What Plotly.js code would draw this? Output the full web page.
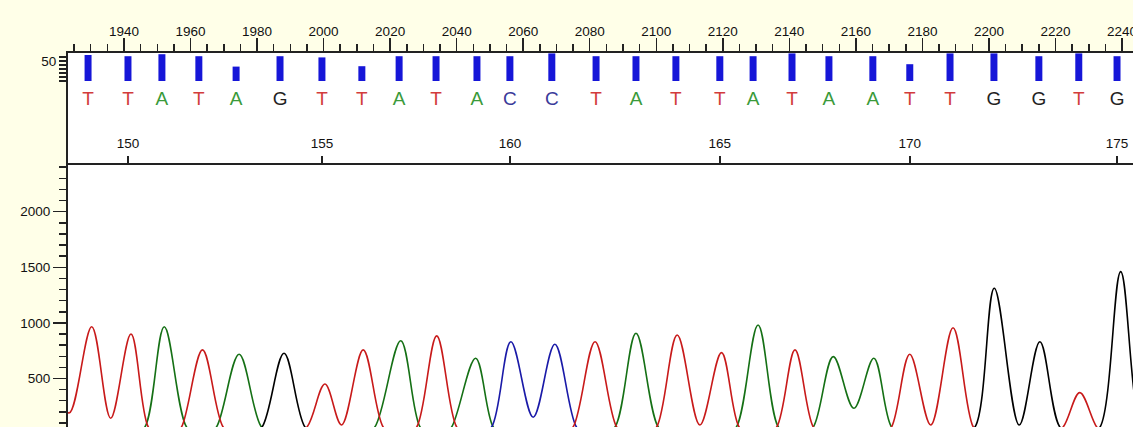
<!DOCTYPE html>
<html><head><meta charset="utf-8">
<script src="https://cdn.plot.ly/plotly-3.0.1.min.js"></script>
<style>html,body{margin:0;padding:0;background:#FFFFE8;}#chart{width:1133px;height:427px;}</style>
</head><body><div id="chart"></div>
<script>
// ---- data ----
const firstBase = 149;
const calls = ['T','T','A','T','A','G','T','T','A','T','A','C','C','T','A','T','T','A','T','A','A','T','T','G','G','T','G'];
const callScans = [1929.2,1941.2,1951.4,1962.5,1973.7,1986.9,1999.5,2011.5,2022.7,2033.8,2046.1,2056.0,2068.6,2081.9,2093.9,2105.9,2119.1,2129.1,2140.8,2151.9,2165.1,2176.2,2188.3,2201.5,2215.0,2227.0,2238.5];
const quality = [65,62,67,62,36,62,59,37,62,62,62,62,69,62,62,62,62,62,69,62,62,42,69,69,62,69,62];

const scanT = [1917,1923.5,1930.3,1936.0,1942.1,1947.3,1950,1955,1957.3,1963.6,1969.8,1973,1991,1995.0,2000.4,2005.4,2011.9,2017.9,2021,2025,2028.0,2034.0,2040.0,2043,2072,2075.0,2081.6,2088.1,2091,2097,2100.1,2106.3,2113.1,2119.6,2124.9,2128,2133,2136.2,2141.7,2147.2,2150,2168,2170.7,2176.2,2182.5,2189.2,2195.3,2198,2219,2222.3,2227.3,2232.4,2235,2250];
const sigT  = [700,190,966,143,900,64,0,0,64,757,64,0,0,64,450,82,757,64,0,0,64,883,64,0,0,64,831,64,0,0,64,891,82,733,64,0,0,64,757,64,0,0,64,718,82,957,64,0,0,64,373,64,0,0];

const scanA = [1920,1943,1946.3,1952.1,1958.8,1962,1965,1967.8,1974.6,1981.3,1985,2012,2015.4,2023.2,2029.0,2032,2036,2038.5,2045.7,2051.0,2054,2084,2087.6,2093.9,2100.6,2104,2121,2124.1,2130.6,2136.7,2140,2144,2147.2,2153.2,2159.4,2165.4,2170.7,2174,2250];
const sigA  = [0,0,64,966,64,0,0,64,718,64,0,0,64,840,64,0,0,64,682,64,0,0,64,907,64,0,0,64,981,64,0,0,64,697,232,682,64,0,0];

const scanC = [1920,2047,2050.5,2056.3,2063.0,2069.5,2076.0,2079,2250];
const sigC  = [0,0,64,831,152,808,64,0,0];

const scanG = [1920,1978,1981.5,1988.1,1994.4,1998,2192,2195.8,2201.6,2209.1,2215.3,2221.3,2225,2230,2233.4,2239.6,2245.8,2249];
const sigG  = [0,0,64,727,64,0,0,64,1311,82,831,64,0,0,64,1461,64,0];

// ---- styling ----
const W = 1133, H = 427;
const py = p => 1 - p / H;
const traceColor = {A:'#157015', C:'#1a1aa8', G:'#000000', T:'#c81a1a'};
const letterColor = {A:'#3a9a3a', C:'#3a3a9a', G:'#222222', T:'#d23c3c'};
const xRange = [1923.17, 2243.3];
const axisCol = '#222';
const fontFam = 'Liberation Sans, Arial, sans-serif';

const baseNums = calls.map((c,i) => firstBase + i);
const tickIdx = baseNums.map((n,i) => n % 5 === 0 ? i : -1).filter(i => i >= 0);

function chan(xs, ys, key) {
  return {type:'scatter', mode:'lines', x:xs, y:ys, xaxis:'x', yaxis:'y',
    line:{color:traceColor[key], width:1.6, shape:'spline', smoothing:1}, hoverinfo:'skip'};
}

const data = [
  chan(scanA, sigA, 'A'), chan(scanC, sigC, 'C'), chan(scanG, sigG, 'G'), chan(scanT, sigT, 'T'),
  {type:'bar', x:callScans, y:quality, width:2.1, xaxis:'x2', yaxis:'y2',
   marker:{color:'#1616d8', line:{width:0}}, hoverinfo:'skip'},
  {type:'scatter', mode:'text', x:callScans, y:calls.map(() => 0.77), text:calls,
   xaxis:'x2', yaxis:'y3', cliponaxis:false, textposition:'middle center',
   textfont:{family:fontFam, size:19, color:calls.map(c => letterColor[c])}, hoverinfo:'skip'}
];

const layout = {
  width:W, height:H,
  margin:{l:68, r:0, t:0, b:0, pad:0},
  paper_bgcolor:'#FFFFE8', plot_bgcolor:'#FFFFFF',
  showlegend:false,
  font:{family:fontFam, size:13, color:'#111'},
  xaxis:{range:xRange, domain:[0,1], anchor:'y', side:'top',
    tickmode:'array', tickvals:tickIdx.map(i => callScans[i]), ticktext:tickIdx.map(i => String(baseNums[i])),
    ticks:'outside', ticklen:7, tickwidth:1.5, tickcolor:axisCol, ticklabelstandoff:3, ticklabeloverflow:'allow',
    showline:true, linecolor:axisCol, linewidth:2, showgrid:false, zeroline:false,
    tickfont:{size:13.5}},
  xaxis2:{range:xRange, domain:[0,1], anchor:'y2', side:'top',
    tick0:0, dtick:20, ticks:'outside', ticklen:13, tickwidth:1.5, tickcolor:axisCol, ticklabelstandoff:-3, ticklabeloverflow:'allow',
    minor:{tick0:0, dtick:5, ticks:'outside', ticklen:7, tickwidth:1.5, tickcolor:axisCol, showgrid:false},
    showline:true, linecolor:axisCol, linewidth:2, showgrid:false, zeroline:false,
    tickfont:{size:13.5}},
  yaxis:{domain:[0, py(165)], range:[63.8, 2420], anchor:'x',
    tick0:0, dtick:500, tickformat:'d', ticks:'outside', ticklen:13, tickwidth:1.5, tickcolor:axisCol,
    minor:{tick0:0, dtick:100, ticks:'outside', ticklen:7, tickwidth:1.5, tickcolor:axisCol, showgrid:false},
    showline:true, linecolor:axisCol, linewidth:2, showgrid:false, zeroline:false,
    tickfont:{size:13.5}},
  yaxis2:{domain:[py(81), py(53)], range:[0,70], anchor:'x2',
    tickmode:'array', tickvals:[0,10,20,30,40,50,60], ticktext:['','','','','','50',''],
    ticks:'outside', ticklen:7, tickwidth:1.5, tickcolor:axisCol,
    showline:true, linecolor:axisCol, linewidth:2, showgrid:false, zeroline:false,
    tickfont:{size:13.5}},
  yaxis3:{domain:[py(165), py(81)], range:[0,1], anchor:'x2',
    showline:true, linecolor:axisCol, linewidth:2, showgrid:false, zeroline:false,
    ticks:'', showticklabels:false}
};

Plotly.newPlot('chart', data, layout, {staticPlot:true, displayModeBar:false});
</script></body></html>
